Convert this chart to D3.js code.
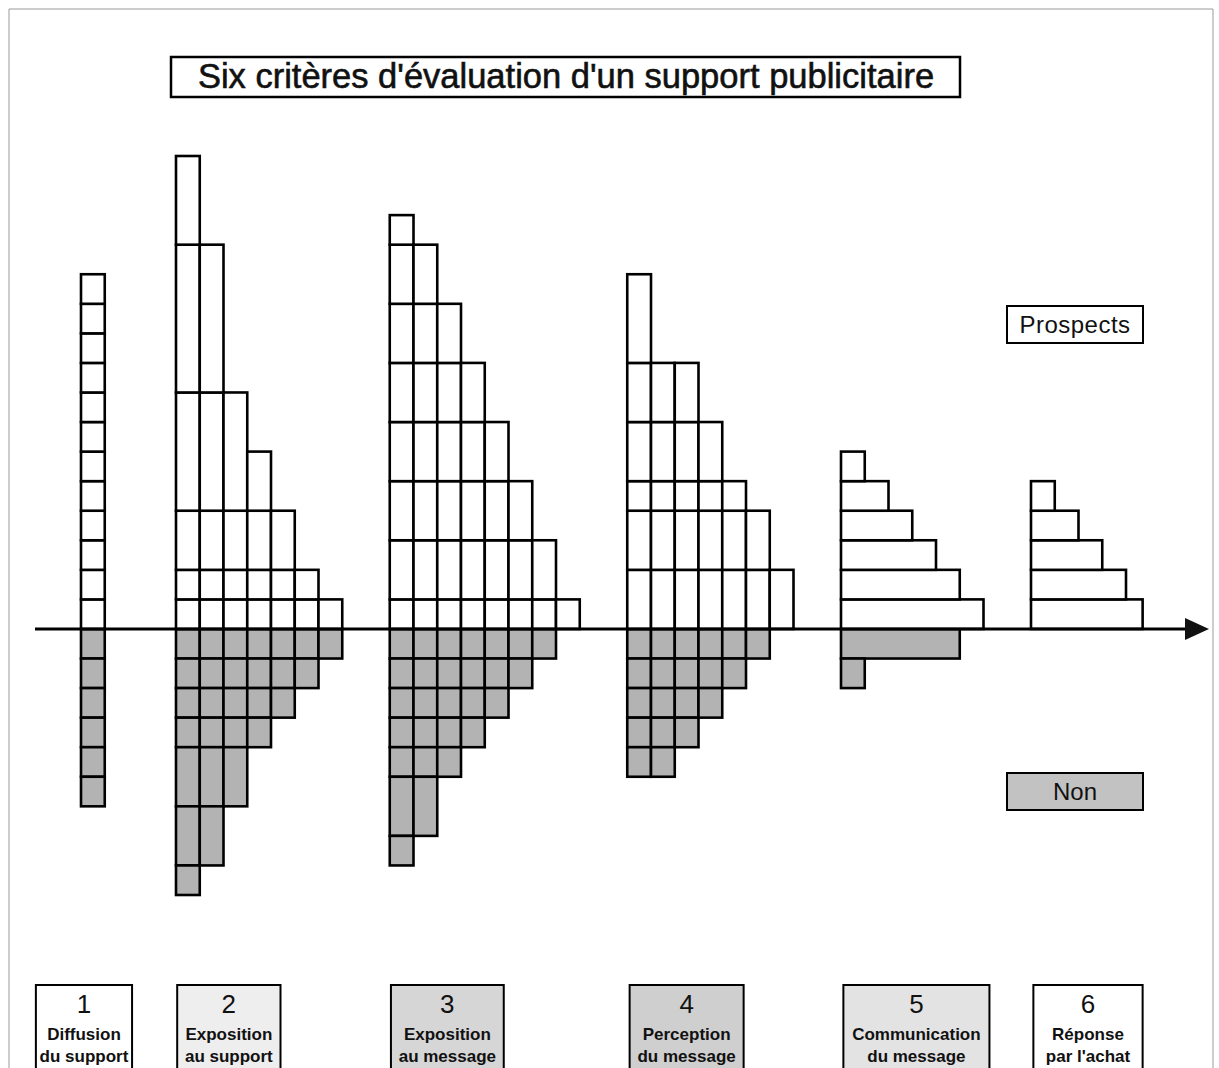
<!DOCTYPE html>
<html lang="fr">
<head>
<meta charset="utf-8">
<title>Six critères d'évaluation d'un support publicitaire</title>
<script src="https://cdn.jsdelivr.net/npm/d3@7"></script>
<style>
  html, body { margin: 0; padding: 0; background: #fff; }
  svg { display: block; }
  text { font-family: "Liberation Sans", Arial, sans-serif; fill: #111; }
</style>
</head>
<body>
<svg id="chart" width="1219" height="1068"></svg>
<script>
// ---- Données ----
const titre = "Six critères d'évaluation d'un support publicitaire";
const numeros = ["1", "2", "3", "4", "5", "6"];
const libelleLigne1 = ["Diffusion", "Exposition", "Exposition", "Perception", "Communication", "Réponse"];
const libelleLigne2 = ["du support", "au support", "au message", "du message", "du message", "par l'achat"];
const legendeProspects = "Prospects";
const legendeNon = "Non";

// Critères 1 à 4 : une liste de colonnes, chaque colonne empilant des cases
// (hauteurs en rangées, du bas vers le haut au-dessus de l'axe)
const prospectsColonnes = [
  [[1, 1, 1, 1, 1, 1, 1, 1, 1, 1, 1, 1]],
  [[1, 1, 2, 4, 5, 3], [1, 1, 2, 4, 5], [1, 1, 2, 4], [1, 1, 2, 2], [1, 1, 2], [1, 1], [1]],
  [[1, 2, 2, 2, 2, 2, 2, 1], [1, 2, 2, 2, 2, 2, 2], [1, 2, 2, 2, 2, 2], [1, 2, 2, 2, 2], [1, 2, 2, 2], [1, 2, 2], [1, 2], [1]],
  [[2, 2, 1, 2, 2, 3], [2, 2, 1, 2, 2], [2, 2, 1, 2, 2], [2, 2, 1, 2], [2, 2, 1], [2, 2], [2]]
];
// (hauteurs en rangées, de l'axe vers le bas)
const nonColonnes = [
  [[1, 1, 1, 1, 1, 1]],
  [[1, 1, 1, 1, 2, 2, 1], [1, 1, 1, 1, 2, 2], [1, 1, 1, 1, 2], [1, 1, 1, 1], [1, 1, 1], [1, 1], [1]],
  [[1, 1, 1, 1, 1, 2, 1], [1, 1, 1, 1, 1, 2], [1, 1, 1, 1, 1], [1, 1, 1, 1], [1, 1, 1], [1, 1], [1]],
  [[1, 1, 1, 1, 1], [1, 1, 1, 1, 1], [1, 1, 1, 1], [1, 1, 1], [1, 1], [1]]
];
// Critères 5 et 6 : des barres horizontales (largeur en cases), de l'axe vers l'extérieur
const prospectsBarres = [[6, 5, 4, 3, 2, 1], [4.7, 4, 3, 2, 1]];
const nonBarres = [[5, 1], []];

// ---- Mise en page ----
const W = 1219, H = 1068;
const departGroupe = [0, 4, 13, 23, 32, 40];          // début de chaque critère, en cases
const cadres = [                                       // cadres des libellés, en cases
  { gauche: -1.9, largeur: 4.05 },
  { gauche: 0.05, largeur: 4.35 },
  { gauche: 0.05, largeur: 4.75 },
  { gauche: 0.1,  largeur: 4.8 },
  { gauche: 0.1,  largeur: 6.15 },
  { gauche: 0.1,  largeur: 4.6 }
];
const fondsCadres = ["#ffffff", "#eeeeee", "#d6d6d6", "#cfcfcf", "#e3e3e3", "#ffffff"];
const gris = "#b3b3b3";
const trait = 2.6;

const x = d3.scaleLinear().domain([0, 47]).range([81, 81 + 47 * 23.75]);
const y = d3.scaleLinear().domain([-9, 16]).range([895, 156]);

const svg = d3.select("#chart");

// cadre fin autour de la figure
svg.append("path")
  .attr("d", `M9,${H + 2} V9 H1213 V${H + 2}`)
  .attr("fill", "none").attr("stroke", "#9a9a9a").attr("stroke-width", 1);

// titre encadré
const gTitre = svg.append("g");
gTitre.append("rect")
  .attr("x", 171).attr("y", 57).attr("width", 789).attr("height", 40)
  .attr("fill", "#fff").attr("stroke", "#000").attr("stroke-width", 2.5);
gTitre.append("text")
  .attr("x", 566).attr("y", 88).attr("text-anchor", "middle")
  .style("font-size", "34.5px")
  .style("stroke", "#111").style("stroke-width", 0.6)
  .text(titre);

// construction des cases à partir des colonnes empilées
function casesColonnes(colonnes, depart, sens) {
  const cases = [];
  colonnes.forEach((segments, i) => {
    let cumul = 0;
    segments.forEach(h => {
      cases.push({ x0: depart + i, x1: depart + i + 1, y0: sens * cumul, y1: sens * (cumul + h) });
      cumul += h;
    });
  });
  return cases;
}
function casesBarres(largeurs, depart, sens) {
  return largeurs.map((l, r) => ({ x0: depart, x1: depart + l, y0: sens * r, y1: sens * (r + 1) }));
}

const prospects = [], non = [];
prospectsColonnes.forEach((cols, g) => prospects.push(...casesColonnes(cols, departGroupe[g], 1)));
nonColonnes.forEach((cols, g) => non.push(...casesColonnes(cols, departGroupe[g], -1)));
prospectsBarres.forEach((b, k) => prospects.push(...casesBarres(b, departGroupe[4 + k], 1)));
nonBarres.forEach((b, k) => non.push(...casesBarres(b, departGroupe[4 + k], -1)));

function dessiner(donnees, fond) {
  svg.append("g").selectAll("rect").data(donnees).join("rect")
    .attr("x", d => x(d.x0))
    .attr("y", d => Math.min(y(d.y0), y(d.y1)))
    .attr("width", d => x(d.x1) - x(d.x0))
    .attr("height", d => Math.abs(y(d.y1) - y(d.y0)))
    .attr("fill", fond).attr("stroke", "#000").attr("stroke-width", trait);
}
dessiner(non, gris);
dessiner(prospects, "#fff");

// axe horizontal avec flèche
svg.append("line")
  .attr("x1", 35).attr("x2", 1188).attr("y1", y(0)).attr("y2", y(0))
  .attr("stroke", "#000").attr("stroke-width", 3);
svg.append("path")
  .attr("d", `M1185,${y(0) - 11} L1209,${y(0)} L1185,${y(0) + 11} Z`)
  .attr("fill", "#111");

// légendes
const leg = svg.append("g");
leg.append("rect").attr("x", 1007).attr("y", 306).attr("width", 136).attr("height", 37)
  .attr("fill", "#fff").attr("stroke", "#000").attr("stroke-width", 2);
leg.append("text").attr("x", 1075).attr("y", 333).attr("text-anchor", "middle")
  .style("font-size", "24px").style("letter-spacing", "0.5px").text(legendeProspects);
leg.append("rect").attr("x", 1007).attr("y", 773).attr("width", 136).attr("height", 37)
  .attr("fill", "#c2c2c2").attr("stroke", "#000").attr("stroke-width", 2);
leg.append("text").attr("x", 1075).attr("y", 800).attr("text-anchor", "middle")
  .style("font-size", "24px").text(legendeNon);

// cadres numérotés sous l'axe
const pied = svg.append("g").selectAll("g").data(numeros).join("g");
pied.append("rect")
  .attr("x", (d, i) => x(departGroupe[i] + cadres[i].gauche))
  .attr("y", 985)
  .attr("width", (d, i) => x(cadres[i].largeur) - x(0))
  .attr("height", 90)
  .attr("fill", (d, i) => fondsCadres[i]).attr("stroke", "#000").attr("stroke-width", 2);
const centre = i => x(departGroupe[i] + cadres[i].gauche + cadres[i].largeur / 2);
pied.append("text")
  .attr("x", (d, i) => centre(i)).attr("y", 1013).attr("text-anchor", "middle")
  .style("font-size", "26px").text(d => d);
pied.append("text")
  .attr("x", (d, i) => centre(i)).attr("y", 1040).attr("text-anchor", "middle")
  .style("font-size", "17px").style("font-weight", "bold")
  .text((d, i) => libelleLigne1[i]);
pied.append("text")
  .attr("x", (d, i) => centre(i)).attr("y", 1062).attr("text-anchor", "middle")
  .style("font-size", "17px").style("font-weight", "bold")
  .text((d, i) => libelleLigne2[i]);
</script>
</body>
</html>
